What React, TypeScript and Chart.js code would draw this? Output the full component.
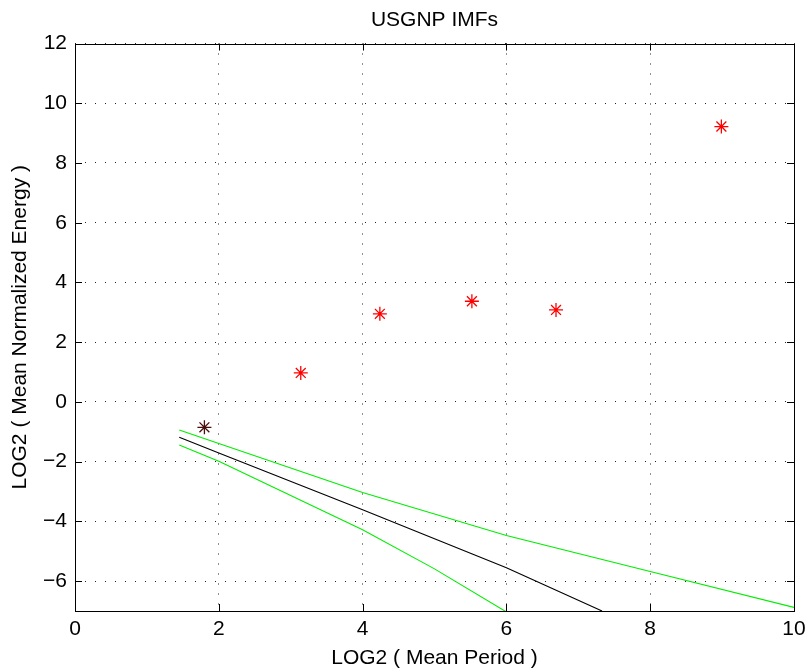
import { useEffect, useRef } from "react";
import { Chart, registerables } from "chart.js";

Chart.register(...registerables);

// IMF points: log2(mean period) vs log2(mean normalized energy)
const IMF_PERIOD = [1.8, 3.14, 4.24, 5.52, 6.69, 8.99];
const IMF_ENERGY = [-0.85, 0.97, 2.95, 3.37, 3.08, 9.22];

// white-noise reference line (black)
const REF_X = [1.45, 2, 4, 6, 7.33];
const REF_Y = [-1.18, -1.71, -3.61, -5.55, -7.0];

// upper spread line (green)
const UPPER_X = [1.45, 2, 4, 5, 6, 8, 10];
const UPPER_Y = [-0.94, -1.39, -3.03, -3.75, -4.47, -5.68, -6.88];

// lower spread line (green)
const LOWER_X = [1.45, 2, 4, 5, 6];
const LOWER_Y = [-1.44, -1.99, -4.28, -5.59, -7.03];

const X_TICKS = [0, 2, 4, 6, 8, 10];
const Y_TICKS = [-6, -4, -2, 0, 2, 4, 6, 8, 10, 12];

const TITLE = "USGNP IMFs";
const X_LABEL = "LOG2 ( Mean Period )";
const Y_LABEL = "LOG2 ( Mean Normalized Energy )";

const FONT = "'Liberation Sans', Arial, Helvetica, sans-serif";
const FS = 21;

const zip = (xs: number[], ys: number[]) => xs.map((x, i) => ({ x, y: ys[i] }));
const fmt = (v: number) => (v < 0 ? "\u2212" + Math.abs(v) : String(v));

const framePlugin = {
  id: "frame",
  afterDatasetsDraw(chart: any) {
    const { ctx, chartArea: a, scales } = chart;
    ctx.save();
    ctx.strokeStyle = "#000";
    ctx.lineWidth = 1;
    const L = 7;
    ctx.beginPath();
    for (const v of X_TICKS) {
      const px = Math.round(scales.x.getPixelForValue(v)) + 0.5;
      ctx.moveTo(px, a.bottom);
      ctx.lineTo(px, a.bottom - L);
      ctx.moveTo(px, a.top);
      ctx.lineTo(px, a.top + L);
    }
    for (const v of Y_TICKS) {
      const py = Math.round(scales.y.getPixelForValue(v)) + 0.5;
      ctx.moveTo(a.left, py);
      ctx.lineTo(a.left + L, py);
      ctx.moveTo(a.right, py);
      ctx.lineTo(a.right - L, py);
    }
    ctx.stroke();
    ctx.strokeRect(
      Math.round(a.left) + 0.5,
      Math.round(a.top) + 0.5,
      Math.round(a.right) - Math.round(a.left),
      Math.round(a.bottom) - Math.round(a.top)
    );
    // title centred over the plot area
    ctx.fillStyle = "#000";
    ctx.font = `${FS}px ${FONT}`;
    ctx.textAlign = "center";
    ctx.textBaseline = "middle";
    ctx.fillText(TITLE, (a.left + a.right) / 2, 20);
    ctx.restore();
  },
};

export default function App() {
  const ref = useRef<HTMLCanvasElement | null>(null);

  useEffect(() => {
    document.body.style.margin = "0";
    const canvas = ref.current;
    if (!canvas) return;
    const grid = {
      color: "#222",
      lineWidth: 1,
      drawTicks: false,
    };
    const chart = new Chart(canvas, {
      type: "scatter",
      data: {
        datasets: [
          {
            label: "IMFs",
            data: zip(IMF_PERIOD, IMF_ENERGY),
            pointStyle: "star",
            pointRadius: 7,
            pointBorderWidth: 1.3,
            pointBorderColor: IMF_PERIOD.map((_, i) => (i === 0 ? "#4a0c0c" : "#ff0000")),
            pointBackgroundColor: "transparent",
            showLine: false,
          },
          {
            label: "reference",
            data: zip(REF_X, REF_Y),
            showLine: true,
            borderColor: "#000",
            borderWidth: 1.1,
            pointRadius: 0,
            fill: false,
          },
          {
            label: "upper",
            data: zip(UPPER_X, UPPER_Y),
            showLine: true,
            borderColor: "#00ee00",
            borderWidth: 1.1,
            pointRadius: 0,
            fill: false,
          },
          {
            label: "lower",
            data: zip(LOWER_X, LOWER_Y),
            showLine: true,
            borderColor: "#00ee00",
            borderWidth: 1.1,
            pointRadius: 0,
            fill: false,
          },
        ],
      },
      options: {
        animation: false,
        responsive: false,
        devicePixelRatio: 1,
        layout: { padding: { left: 0, right: 15, top: 43.5, bottom: 0 } },
        plugins: {
          legend: { display: false },
          tooltip: { enabled: false },
          title: { display: false },
        },
        scales: {
          x: {
            type: "linear",
            min: 0,
            max: 10,
            afterBuildTicks: (s: any) => {
              s.ticks = X_TICKS.map((v) => ({ value: v }));
            },
            afterFit: (s: any) => {
              s.height = 61;
              s.paddingLeft = 0;
              s.paddingRight = 0;
            },
            grid: { ...grid } as any,
            border: { display: false, dash: [1, 9] },
            ticks: {
              color: "#000",
              padding: 6,
              maxRotation: 0,
              font: { family: FONT, size: FS, lineHeight: 1.2 },
              callback: (v: any) => fmt(Number(v)),
            },
            title: {
              display: true,
              text: X_LABEL,
              color: "#000",
              font: { family: FONT, size: FS, lineHeight: 1.2 },
              padding: { top: 0, bottom: 1.5 },
            },
          },
          y: {
            type: "linear",
            min: -7,
            max: 12,
            afterBuildTicks: (s: any) => {
              s.ticks = Y_TICKS.map((v) => ({ value: v }));
            },
            afterFit: (s: any) => {
              s.width = 75;
              s.paddingTop = 0;
              s.paddingBottom = 0;
            },
            grid: { ...grid } as any,
            border: { display: false, dash: [1, 9] },
            ticks: {
              color: "#000",
              padding: 8,
              font: { family: FONT, size: FS, lineHeight: 1.2 },
              callback: (v: any) => fmt(Number(v)),
            },
            title: {
              display: true,
              text: Y_LABEL,
              color: "#000",
              font: { family: FONT, size: FS, lineHeight: 1.2 },
              padding: { top: 7.5, bottom: 0 },
            },
          },
        },
      },
      plugins: [framePlugin],
    });
    return () => chart.destroy();
  }, []);

  return (
    <div style={{ width: 809, height: 672 }}>
      <canvas ref={ref} width={809} height={672} style={{ display: "block" }} />
    </div>
  );
}
